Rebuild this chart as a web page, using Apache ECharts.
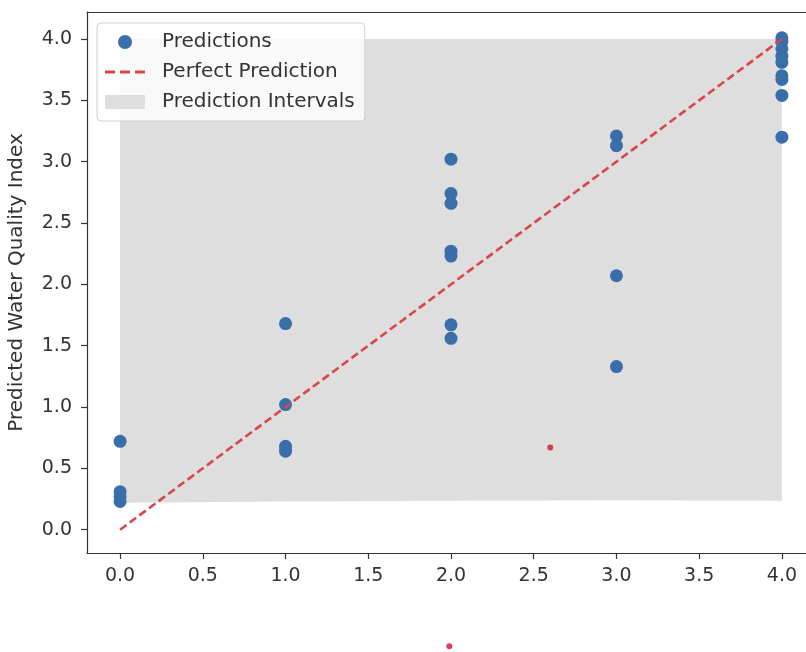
<!DOCTYPE html>
<html><head><meta charset="utf-8">
<script src="https://cdn.jsdelivr.net/npm/echarts@6/dist/echarts.min.js"></script>
<style>html,body{margin:0;padding:0;background:#fff}#c{width:806px;height:652px}</style>
</head><body><div id="c"></div>
<script>
// Data
const predX0 = [0.72, 0.31, 0.27, 0.23];
const predX1 = [1.68, 1.02, 0.68, 0.64];
const predX2 = [3.02, 2.74, 2.66, 2.27, 2.23, 1.67, 1.56];
const predX3 = [3.21, 3.13, 2.07, 1.33];
const predX4 = [4.01, 3.98, 3.92, 3.86, 3.81, 3.70, 3.67, 3.54, 3.20];
const actualClasses = [0, 1, 2, 3, 4];
const intervalLower = [0.22, 0.23, 0.235, 0.24, 0.235];
const intervalUpper = [4.0, 4.0, 4.0, 4.0, 4.0];
const perfectLine = [[0, 0], [4, 4]];
const strayMarks = [[2.60, 0.67], [1.99, -0.95]];
const tickValues = [0, 0.5, 1, 1.5, 2, 2.5, 3, 3.5, 4];

const groups = [predX0, predX1, predX2, predX3, predX4];
const predPoints = [];
groups.forEach((g, i) => g.forEach(v => predPoints.push([actualClasses[i], v])));

const chart = echarts.init(document.getElementById('c'), null, {renderer: 'canvas'});
const font = 'DejaVu Sans';
const dashIcon = 'path://M0,0 M40,14 M0,5.6h10v2.8h-10z M15,5.6h10v2.8h-10z M30,5.6h10v2.8h-10z';
chart.setOption({
  animation: false,
  backgroundColor: '#ffffff',
  textStyle: {fontFamily: font},
  grid: {left: 87, top: 12, width: 728, height: 541, outerBoundsMode: 'none', containLabel: false, show: false},
  xAxis: [{
    type: 'value', min: -0.2, max: 4.2,
    axisLine: {onZero: false, lineStyle: {color: '#333', width: 1.2}},
    axisTick: {show: true, inside: false, length: 6, customValues: tickValues, lineStyle: {color: '#333', width: 1.2}},
    axisLabel: {customValues: tickValues, formatter: v => v.toFixed(1), fontSize: 19, color: '#333', margin: 14, fontFamily: font},
    splitLine: {show: false}
  }, {
    type: 'value', position: 'top', min: -0.2, max: 4.2,
    axisLine: {show: true, onZero: false, lineStyle: {color: '#333', width: 1.2}},
    axisTick: {show: false}, axisLabel: {show: false}, splitLine: {show: false}
  }],
  yAxis: {
    type: 'value', min: -0.19, max: 4.22,
    name: 'Predicted Water Quality Index', nameLocation: 'middle', nameGap: 60,
    nameTextStyle: {fontSize: 20, color: '#333', fontFamily: font},
    axisLine: {onZero: false, show: true, lineStyle: {color: '#333', width: 1.2}},
    axisTick: {show: true, inside: false, length: 6, customValues: tickValues, lineStyle: {color: '#333', width: 1.2}},
    axisLabel: {customValues: tickValues, formatter: v => v.toFixed(1), fontSize: 19, color: '#333', margin: 15, fontFamily: font},
    splitLine: {show: false}
  },
  legend: {
    orient: 'vertical', left: 97, top: 23,
    padding: [8, 10, 8, 8], itemGap: 8, itemWidth: 40, itemHeight: 14,
    backgroundColor: 'rgba(255,255,255,0.8)', borderColor: '#d0d0d0', borderWidth: 1, borderRadius: 4,
    textStyle: {fontSize: 20, lineHeight: 22, color: '#333', fontFamily: font, padding: [0, 0, 0, 12]},
    data: [
      {name: 'Predictions', icon: 'circle'},
      {name: 'Perfect Prediction', icon: dashIcon},
      {name: 'Prediction Intervals', icon: 'rect'}
    ]
  },
  series: [
    {
      name: 'Prediction Intervals', type: 'custom', z: 1,
      itemStyle: {color: '#dedede'},
      data: actualClasses.map((x, i) => [x, intervalLower[i], intervalUpper[i]]),
      renderItem: function (params, api) {
        if (params.dataIndex !== 0) return null;
        const pts = [];
        for (let i = 0; i < actualClasses.length; i++) pts.push(api.coord([actualClasses[i], intervalUpper[i]]));
        for (let i = actualClasses.length - 1; i >= 0; i--) pts.push(api.coord([actualClasses[i], intervalLower[i]]));
        return {type: 'polygon', shape: {points: pts}, style: {fill: '#dedede'}};
      }
    },
    {
      name: 'Predictions', type: 'scatter', z: 3, symbol: 'circle', symbolSize: 13,
      itemStyle: {color: '#3a6ea8', opacity: 1},
      data: predPoints
    },
    {
      name: 'Perfect Prediction', type: 'line', z: 4, showSymbol: false, symbol: 'none',
      lineStyle: {color: '#d9454b', width: 2.6, type: [8, 4]},
      itemStyle: {color: '#d9454b'},
      data: perfectLine
    },
    {
      name: 'marks', type: 'scatter', z: 5, symbolSize: 6, clip: false,
      itemStyle: {color: '#cc1133'},
      data: strayMarks
    }
  ]
});
</script></body></html>
